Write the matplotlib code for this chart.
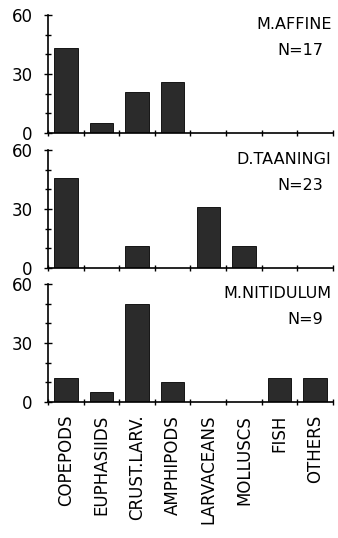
import matplotlib
matplotlib.use('Agg')
import matplotlib.pyplot as plt
import numpy as np

categories = ['COPEPODS', 'EUPHASIIDS', 'CRUST.LARV.', 'AMPHIPODS',
              'LARVACEANS', 'MOLLUSCS', 'FISH', 'OTHERS']

affine = [43, 5, 21, 26, 0, 0, 0, 0]
taaningi = [46, 0, 11, 0, 31, 11, 0, 0]
nitidulum = [12, 5, 50, 10, 0, 0, 12, 12]

species = ['M.AFFINE', 'D.TAANINGI', 'M.NITIDULUM']
counts = ['N=17', 'N=23', 'N=9']
panels = [affine, taaningi, nitidulum]

FONT = 'DejaVu Sans'
BAR_COLOR = '#2b2b2b'

fig = plt.figure(figsize=(3.38, 5.38), dpi=100)

# panel boxes in figure fractions: (left, bottom, width, height)
boxes = [
  (0.142, 0.753, 0.843, 0.219),
  (0.142, 0.502, 0.843, 0.219),
  (0.142, 0.253, 0.843, 0.219),
]

x = np.arange(len(categories))

for i, (vals, name, n, box) in enumerate(zip(panels, species, counts, boxes)):
  ax = fig.add_axes(box)
  ax.bar(x, vals, width=0.66, color=BAR_COLOR, edgecolor='black', linewidth=0.6)
  ax.set_xlim(-0.5, len(categories) - 0.5)
  ax.set_ylim(0, 60)

  ax.spines['top'].set_visible(False)
  ax.spines['right'].set_visible(False)
  ax.spines['left'].set_linewidth(1.2)
  ax.spines['bottom'].set_linewidth(1.2)

  ax.set_yticks([0, 30, 60])
  ax.set_yticks([10, 20, 40, 50], minor=True)
  ax.tick_params(axis='y', which='major', direction='inout', length=6, width=1.0,
                 labelsize=12, pad=8)
  ax.tick_params(axis='y', which='minor', direction='inout', length=4, width=1.0)
  for lab in ax.get_yticklabels():
    lab.set_family(FONT)

  ax.set_xticks(np.arange(len(categories) + 1) - 0.5)
  ax.tick_params(axis='x', which='major', direction='inout', length=5, width=1.0)
  ax.set_xticklabels([])

  ax.text(0.995, 0.92, name, transform=ax.transAxes, ha='right', va='center',
          fontsize=11.5, family=FONT)
  ax.text(0.965, 0.70, n, transform=ax.transAxes, ha='right', va='center',
          fontsize=11.5, family=FONT)

  if i == len(panels) - 1:
    for xi, cat in zip(x, categories):
      ax.text(xi, -0.11, cat, transform=ax.get_xaxis_transform(), rotation=90,
              ha='center', va='top', fontsize=12, family=FONT)

fig.savefig('out.png', dpi=100)
